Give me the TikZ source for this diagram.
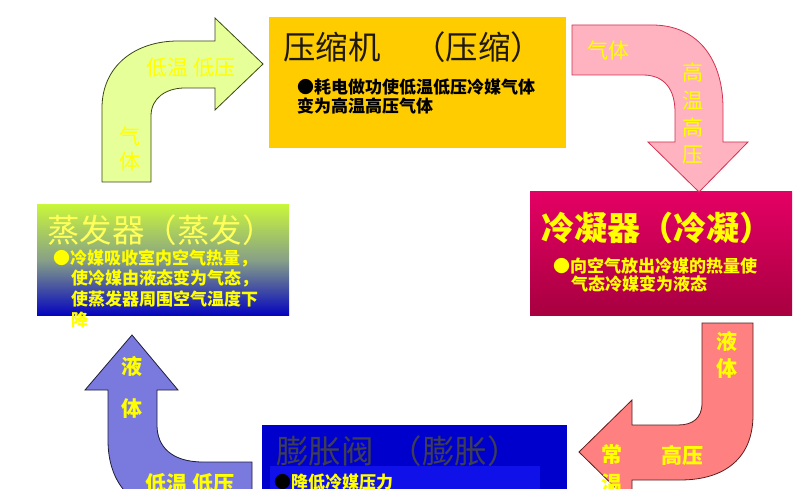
\documentclass[tikz,border=0pt]{standalone}
\usepackage{fontspec}
\setmainfont{Noto Sans CJK SC}
\definecolor{cmpY}{RGB}{255,204,0}
\definecolor{condTop}{RGB}{228,0,100}
\definecolor{condBot}{RGB}{168,0,64}
\definecolor{evTop}{RGB}{200,245,60}
\definecolor{evMid}{RGB}{135,160,135}
\definecolor{evBot}{RGB}{5,5,190}
\definecolor{expB}{RGB}{0,0,204}
\definecolor{expB2}{RGB}{16,16,232}
\definecolor{arrG}{RGB}{230,255,153}
\definecolor{arrGline}{RGB}{60,70,20}
\definecolor{arrP}{RGB}{255,178,192}
\definecolor{arrPline}{RGB}{210,50,80}
\definecolor{arrS}{RGB}{255,128,128}
\definecolor{arrSline}{RGB}{90,30,30}
\definecolor{arrB}{RGB}{122,122,222}
\definecolor{arrBline}{RGB}{30,30,60}
\definecolor{txtY}{RGB}{255,255,0}
\definecolor{txtYl}{RGB}{255,255,90}
\definecolor{titleDark}{RGB}{30,25,10}
\definecolor{expTitle}{RGB}{62,62,82}
\begin{document}
\begin{tikzpicture}[x=1pt,y=-1pt,
  boxnode/.style={inner sep=0pt, outer sep=0pt, anchor=north west},
  ttl/.style={inner sep=0pt, anchor=west, font=\fontsize{32.5}{33}\selectfont},
  bul/.style={inner sep=0pt, anchor=west, font=\fontsize{17}{18}\selectfont\bfseries},
  alab/.style={inner sep=0pt, font=\fontsize{21}{21}\selectfont},
  blab/.style={alab, font=\fontsize{21}{21}\selectfont\bfseries},
  blockarrow/.style={line width=0.8pt, line join=miter}]
\useasboundingbox (0,0) rectangle (801,489);
\clip (0,0) rectangle (801,489);
\fill[white] (0,0) rectangle (801,489);

% ---- boxes ----
\node[boxnode, fill=cmpY, minimum width=297pt, minimum height=131pt] (cmp) at (269,17) {};
\node[boxnode, top color=condTop, bottom color=condBot, minimum width=262pt, minimum height=123pt] (cond) at (530,192) {};
\node[boxnode, top color=evTop, bottom color=evBot, middle color=evMid, minimum width=252pt, minimum height=110pt] (evap) at (37,205) {};
\node[boxnode, fill=expB, minimum width=305pt, minimum height=80pt] (expv) at (262,425) {};
\node[boxnode, fill=expB2, minimum width=270pt, minimum height=40pt] (expbul) at (270,466) {};

% ---- block arrows ----
% top-left: gas, low temperature low pressure -> compressor
\filldraw[blockarrow, fill=arrG, draw=arrGline]
  (102,182) -- (102,108) .. controls (102,66) and (135,41) .. (178,41)
  -- (215,41) -- (215,18) -- (263,64) -- (215,110) -- (215,88) -- (185,88)
  .. controls (166,88) and (151,98) .. (151,116) -- (151,182) -- cycle;
% top-right: compressor -> condenser
\filldraw[blockarrow, fill=arrP, draw=arrPline]
  (572,25) -- (652,25) .. controls (700,25) and (723,62) .. (723,108)
  -- (723,142) -- (748,142) -- (699,192) -- (648,142) -- (675,142) -- (675,112)
  .. controls (675,90) and (665,75) .. (643,75) -- (572,75) -- cycle;
% bottom-right: condenser -> expansion valve
\filldraw[blockarrow, fill=arrS, draw=arrSline]
  (702,323) -- (753,323) -- (753,415) .. controls (753,458) and (725,480) .. (680,480)
  -- (632,480) -- (632,504) -- (579,452) -- (632,400) -- (632,425) -- (678,425)
  .. controls (693,425) and (702,418) .. (702,403) -- cycle;
% bottom-left: expansion valve -> evaporator
\filldraw[blockarrow, fill=arrB, draw=arrBline]
  (252,462) -- (203,462) .. controls (172,462) and (157,447) .. (157,425)
  -- (157,390) -- (178,390) -- (132,335) -- (85,390) -- (108,390) -- (108,440)
  .. controls (108,486) and (135,512) .. (178,512) -- (252,512) -- cycle;

% ---- box texts ----
\node[ttl, text=titleDark] (cmpT) at (283,47) {压缩机　（压缩）};
\node[bul, text=black] (cmpB1) at (297,87) {●耗电做功使低温低压冷媒气体};
\node[bul, text=black] (cmpB2) at (297,106) {变为高温高压气体};

\node[ttl, text=txtY, font=\fontsize{33}{33}\selectfont\bfseries] (condT) at (541,228) {冷凝器（冷凝）};
\node[bul, text=txtY] (condB1) at (553,266) {●向空气放出冷媒的热量使};
\node[bul, text=txtY] (condB2) at (571,284) {气态冷媒变为液态};

\node[ttl, text=txtYl] (evT) at (47,230) {蒸发器（蒸发）};
\node[bul, text=txtY] (evB1) at (53,258) {●冷媒吸收室内空气热量，};
\node[bul, text=txtY] (evB2) at (71,278) {使冷媒由液态变为气态，};
\node[bul, text=txtY] (evB3) at (71,299) {使蒸发器周围空气温度下};
\node[bul, text=txtY] (evB4) at (71,320) {降};

\node[ttl, text=expTitle] (expT) at (276,451) {膨胀阀\hspace{0.5em}（膨胀）};
\node[bul, text=txtY] (expB) at (274,482) {\textcolor{black}{●}降低冷媒压力};

% ---- arrow labels ----
\node[alab, text=txtY] (a1h) at (191,68) {低温 低压};
\node[alab, text=txtY] (a1v1) at (130,136) {气};
\node[alab, text=txtY] (a1v2) at (130,162) {体};

\node[alab, text=txtY] (a2h) at (608,50) {气体};
\node[alab, text=txtY] (a2v1) at (693,72) {高};
\node[alab, text=txtY] (a2v2) at (693,100) {温};
\node[alab, text=txtY] (a2v3) at (693,127) {高};
\node[alab, text=txtY] (a2v4) at (693,155) {压};

\node[blab, text=txtY] (a3v1) at (727,341) {液};
\node[blab, text=txtY] (a3v2) at (727,369) {体};
\node[blab, text=txtY] (a3h) at (682,455) {高压};
\node[blab, text=txtY] (a3c1) at (612,455) {常};
\node[blab, text=txtY] (a3c2) at (612,483) {温};

\node[blab, text=txtY] (a4v1) at (132,366) {液};
\node[blab, text=txtY] (a4v2) at (132,409) {体};
\node[blab, text=txtY] (a4h) at (190,484) {低温 低压};
\end{tikzpicture}
\end{document}
